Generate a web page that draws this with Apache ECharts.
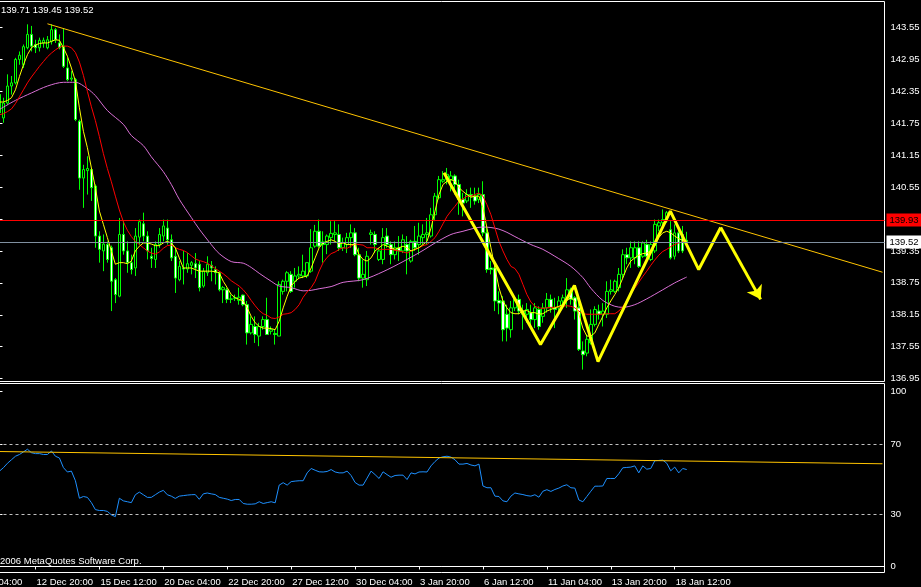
<!DOCTYPE html>
<html><head><meta charset="utf-8">
<script src="https://cdn.jsdelivr.net/npm/echarts@6/dist/echarts.min.js"></script>
<style>html,body{margin:0;padding:0;background:#000;}#c{width:921px;height:587px;}</style>
</head><body><div id="c"></div>
<script>
// ---- DATA (H4 bars, index = bar number) ----
const opens=[
142.29,141.85,142.13,142.45,142.51,142.95,142.85,143.17,143.42,143.23,
143.17,143.26,143.17,143.29,143.51,143.26,143.20,142.79,142.58,142.57,
141.79,140.72,140.86,140.88,140.57,139.63,139.35,139.47,139.41,138.81,
138.50,139.66,139.35,139.13,139.03,139.61,139.86,139.63,139.25,139.19,
139.47,139.63,139.78,139.56,139.25,138.81,139.03,139.01,139.08,139.11,
139.10,138.69,138.94,139.08,139.00,138.94,138.62,138.62,138.44,138.46,
138.42,138.52,138.34,137.81,137.93,137.75,137.93,138.06,137.84,137.80,
137.75,138.59,138.78,138.91,138.78,138.88,138.88,138.88,138.97,139.44,
139.72,139.52,139.47,139.60,139.66,139.66,139.41,139.47,139.60,139.69,
139.28,138.84,138.81,139.66,139.66,139.19,139.19,139.63,139.47,139.28,
139.41,139.35,139.47,139.16,139.53,139.47,139.60,139.66,139.63,140.03,
140.35,140.66,140.69,140.69,140.76,140.60,140.32,140.29,140.41,140.38,
140.32,140.41,139.69,139.03,139.03,138.42,138.41,138.16,137.87,138.28,
138.44,138.22,138.16,138.19,138.06,138.25,138.12,138.28,138.44,138.28,
138.28,138.41,138.47,138.62,138.47,138.28,137.47,137.43,137.62,137.97,
138.22,138.16,138.16,138.59,138.59,138.66,138.91,139.28,139.22,139.22,
139.41,139.25,139.47,139.19,139.35,139.82,139.88,139.91,139.75,139.25,
139.69,139.66,139.55];
const highs=[
142.35,142.23,142.67,142.64,142.98,143.10,143.23,143.61,143.58,143.32,
143.36,143.36,143.39,143.61,143.54,143.42,143.54,142.98,142.73,142.60,
141.82,140.97,141.13,140.91,140.60,139.72,139.66,139.53,139.45,138.84,
139.97,139.91,139.53,139.28,139.78,139.94,140.07,139.72,139.41,139.53,
139.78,139.94,139.94,139.66,139.41,139.16,139.35,139.31,139.16,139.31,
139.16,139.03,139.25,139.16,139.06,138.97,138.69,138.66,138.53,138.53,
138.66,138.53,138.41,138.12,138.12,138.00,138.12,138.47,137.93,137.87,
138.78,138.81,138.97,138.97,139.03,139.06,139.28,139.13,139.76,139.84,
139.94,139.72,139.66,139.91,139.91,139.85,139.60,139.69,139.85,139.78,
139.41,139.19,139.35,139.75,139.72,139.41,139.78,139.78,139.53,139.53,
139.63,139.66,139.63,139.56,139.82,139.88,139.85,139.97,140.16,140.44,
140.76,140.85,140.91,140.85,140.79,140.69,140.44,140.51,140.54,140.54,
140.54,140.66,139.78,139.16,139.10,138.59,138.50,138.34,138.41,138.50,
138.53,138.34,138.37,138.34,138.37,138.31,138.37,138.56,138.53,138.47,
138.50,138.53,138.84,138.66,138.50,138.41,137.65,137.78,138.25,138.31,
138.34,138.37,138.78,138.81,138.81,139.03,139.38,139.41,139.53,139.53,
139.53,139.53,139.56,139.53,139.94,139.94,140.13,140.10,139.91,139.85,
139.78,139.82,139.71];
const lows=[
141.79,141.76,142.10,142.29,142.48,142.85,142.79,143.14,143.10,143.07,
143.10,143.17,143.14,143.23,143.26,143.14,142.79,142.54,142.54,141.79,
140.50,140.16,140.41,140.29,139.41,139.13,138.97,139.13,138.22,138.37,
138.48,139.28,138.94,138.91,138.88,139.47,139.53,139.19,139.03,139.03,
139.41,139.53,139.47,139.16,138.56,138.78,138.72,138.94,138.91,138.84,
138.59,138.66,138.88,138.78,138.72,138.59,138.37,138.37,138.37,138.41,
138.34,138.31,137.59,137.78,137.62,137.56,137.87,137.78,137.78,137.59,
137.75,138.53,138.59,138.56,138.66,138.84,138.84,138.84,138.94,139.41,
139.41,139.13,139.29,139.47,139.53,139.35,139.35,139.31,139.41,139.25,
138.78,138.66,138.69,139.47,139.31,139.16,139.10,139.41,139.10,139.19,
139.16,139.31,138.91,139.13,139.35,139.28,139.47,139.47,139.60,139.91,
140.32,140.63,140.60,140.47,140.41,140.03,140.00,140.25,140.16,140.22,
140.25,139.63,138.94,138.91,138.22,138.16,137.65,137.65,137.72,138.22,
138.16,137.87,138.00,137.93,137.90,137.87,138.00,138.19,138.19,137.90,
138.16,138.28,138.28,138.34,138.06,137.47,137.12,137.37,137.59,137.93,
138.06,137.93,138.09,138.53,138.56,138.59,138.84,139.10,139.03,139.10,
139.03,139.22,139.22,139.16,139.31,139.72,139.75,139.88,139.19,139.19,
139.31,139.31,139.45];
const closes=[
141.95,142.13,142.45,142.51,142.95,143.03,143.19,143.42,143.20,143.17,
143.31,143.31,143.32,143.51,143.32,143.17,142.82,142.57,142.60,141.82,
140.72,140.88,140.90,140.54,139.63,139.38,139.48,139.19,138.78,138.53,
139.66,139.35,139.13,139.00,139.63,139.90,139.63,139.35,139.21,139.47,
139.66,139.82,139.56,139.22,138.84,139.06,139.01,139.11,139.13,139.03,
138.66,138.97,139.10,139.03,138.94,138.62,138.66,138.44,138.45,138.47,
138.48,138.34,137.81,137.97,137.78,137.93,138.06,137.78,137.87,137.78,
138.72,138.78,138.94,138.59,138.88,138.91,138.97,139.13,139.41,139.72,
139.44,139.47,139.63,139.68,139.69,139.41,139.51,139.60,139.69,139.28,
138.84,138.91,139.25,139.69,139.47,139.35,139.60,139.47,139.28,139.41,
139.35,139.56,139.35,139.53,139.41,139.63,139.66,139.69,140.03,140.38,
140.69,140.69,140.79,140.76,140.60,140.32,140.25,140.41,140.38,140.29,
140.41,139.69,139.00,139.00,138.41,138.37,137.87,137.90,138.28,138.44,
138.22,138.16,138.25,138.06,138.28,137.93,138.28,138.44,138.28,138.25,
138.41,138.47,138.62,138.44,138.22,137.50,137.40,137.69,137.97,138.25,
138.16,138.22,138.59,138.62,138.78,138.91,139.28,139.22,139.41,139.41,
139.06,139.50,139.25,139.47,139.85,139.88,139.94,140.07,139.22,139.69,
139.35,139.35,139.52];
// moving averages
const maFast=[
142.15,142.15,142.18,142.23,142.38,142.63,142.85,143.04,143.17,143.22,
143.25,143.26,143.26,143.29,143.32,143.31,143.17,143.01,142.79,142.54,
142.04,141.60,141.29,140.91,140.54,140.10,139.85,139.60,139.35,139.10,
139.13,139.13,139.11,139.16,139.35,139.44,139.50,139.50,139.48,139.45,
139.45,139.50,139.53,139.50,139.41,139.22,139.03,139.03,139.03,139.00,
138.97,138.97,138.97,138.97,138.96,138.94,138.78,138.66,138.53,138.47,
138.44,138.41,138.28,138.12,138.00,137.93,137.90,137.90,137.89,137.87,
138.03,138.28,138.50,138.69,138.78,138.84,138.86,138.88,139.03,139.22,
139.41,139.50,139.53,139.56,139.53,139.48,139.50,139.47,139.47,139.47,
139.28,139.19,139.16,139.22,139.35,139.41,139.47,139.44,139.41,139.38,
139.41,139.44,139.41,139.35,139.38,139.41,139.47,139.53,139.78,140.10,
140.41,140.60,140.66,140.69,140.66,140.54,140.47,140.41,140.36,140.38,
140.38,140.16,139.78,139.41,139.03,138.66,138.41,138.28,138.19,138.17,
138.17,138.22,138.23,138.19,138.19,138.16,138.17,138.22,138.25,138.28,
138.31,138.34,138.42,138.47,138.41,138.16,137.90,137.75,137.75,137.81,
137.97,138.12,138.28,138.41,138.53,138.66,138.84,139.03,139.16,139.22,
139.27,139.30,139.31,139.35,139.44,139.60,139.69,139.72,139.69,139.63,
139.58,139.55,139.53];
const maMid=[
141.91,141.93,141.97,142.02,142.12,142.25,142.38,142.51,142.62,142.72,
142.82,142.91,143.00,143.07,143.13,143.18,143.20,143.20,143.17,143.08,
142.90,142.65,142.35,142.06,141.80,141.50,141.18,140.90,140.65,140.38,
140.12,139.90,139.74,139.62,139.53,139.47,139.41,139.35,139.31,139.29,
139.33,139.40,139.45,139.46,139.41,139.38,139.36,139.32,139.26,139.20,
139.17,139.15,139.12,139.07,139.02,138.97,138.92,138.86,138.79,138.74,
138.69,138.62,138.53,138.42,138.32,138.23,138.17,138.14,138.09,138.08,
138.11,138.16,138.17,138.19,138.25,138.34,138.48,138.58,138.66,138.78,
138.97,139.13,139.23,139.30,139.33,139.38,139.41,139.40,139.44,139.48,
139.47,139.46,139.41,139.41,139.41,139.38,139.38,139.38,139.38,139.36,
139.35,139.33,139.31,139.35,139.38,139.41,139.45,139.47,139.53,139.60,
139.72,139.86,140.00,140.10,140.19,140.29,140.33,140.38,140.38,140.41,
140.44,140.38,140.22,140.03,139.78,139.53,139.35,139.19,139.06,139.02,
138.91,138.72,138.53,138.39,138.31,138.28,138.27,138.28,138.29,138.29,
138.30,138.31,138.32,138.31,138.28,138.22,138.17,138.16,138.16,138.16,
138.16,138.16,138.17,138.17,138.17,138.22,138.30,138.42,138.55,138.65,
138.76,138.87,138.97,139.08,139.18,139.27,139.34,139.38,139.43,139.47,
139.50,139.52,139.53];
const maSlowBars=[0,4,8,12,16,19,22,24,27,31,33,36,38,41,43,45,48,50,53,55,58,61,63,65,68,70,73,76,78,80,83,86,91,96,101,106,109,113,116,119,121,123,125,127,129,133,136,139,143,146,148,151,154,156,159,162,166,169,172];
const maSlowVals=[142.01,142.18,142.32,142.45,142.52,142.52,142.40,142.27,141.99,141.73,141.52,141.33,141.12,140.84,140.60,140.32,139.98,139.76,139.47,139.30,139.15,139.12,139.04,138.93,138.78,138.69,138.66,138.60,138.61,138.64,138.68,138.76,138.81,138.96,139.15,139.36,139.50,139.66,139.72,139.78,139.80,139.79,139.76,139.70,139.62,139.47,139.38,139.25,139.06,138.85,138.65,138.42,138.31,138.29,138.34,138.45,138.62,138.75,138.86];
const rsi=[
54.5,56.5,59,61,63,64,65.5,67,65,64.5,
64.5,64,64,66,63,62,56.5,54,54.5,49,
39,40,39.5,36.5,32.5,32,32,31.5,29.5,28.5,
39,37.5,37,36.5,41,42.5,41,39.5,39.5,41,
42.5,43.5,41,40.2,38.9,40.2,40.5,40.8,41,41.1,
38.4,41.5,42,41.5,41.1,39.5,39,38.5,37.7,38.3,
38.3,36,35.6,35.6,35.8,37,36,36.5,37,36.4,
46.5,47.9,46.5,48.5,48.8,49,49,53.5,56,55,
54.1,54,54.3,55.4,54,53.5,53.5,54.5,52,48,
46.5,46.5,50.5,54.5,52.5,50.3,54.1,52.5,51,52,
52.2,52.2,49.7,53.5,52.9,54,54.1,54,57.5,60,
62,62.7,63,62.5,61,58.5,58.5,58.9,58,57.5,
58.5,46,45,45,40.2,40,37.5,37,40.2,42,
41.5,41.1,40.5,40.2,41,39.6,43,43.9,42.9,44,
44.8,46,46.7,45,44.8,38,37,40,43,45.9,
45.9,46,50.3,50.3,50.3,53,56.4,56.6,56.8,57.5,
53.5,57.5,55.6,56,60.4,60.6,60.8,59,54.7,56.8,
53.5,56,55.4];
// drawn objects
const trendBars=[12,221];
const trendPrices=[143.62,138.95];
const zigBars=[111.25,135.4,143.9,149.8,167.9,175,180.5];
const zigPrices=[140.82,137.59,138.70,137.27,140.10,139.00,139.79];
const arrowEnd=[190.5,138.44];
const rsiTrendBars=[0,221];
const rsiTrendVals=[65.7,58.7];
const resistance=139.93;
const bidPrice=139.52;
const rsiLevelsDashed=[70,30];
// tick labels
const priceLabels=[143.55,142.95,142.35,141.75,141.15,140.55,139.35,138.75,138.15,137.55,136.95];
const priceTicks=[143.55,142.95,142.35,141.75,141.15,140.55,139.95,139.35,138.75,138.15,137.55,136.95];
const rsiLabels=[0,30,70,100];
const timeTickBars=[9,25,41,57,73,89,105,121,137,153,169];
const timeLabels=['12 Dec 20:00','15 Dec 12:00','20 Dec 04:00','22 Dec 20:00','27 Dec 12:00','30 Dec 04:00','3 Jan 20:00','6 Jan 12:00','11 Jan 04:00','13 Jan 20:00','18 Jan 12:00'];
const cutTimeLabel='04:00';
const headerText='139.71 139.45 139.52';
const copyrightText='2006 MetaQuotes Software Corp.';

// ---- CHART ----
const FONT='Liberation Sans';
const FS=9.5;
const pairs=(xs,ys)=>xs.map((x,i)=>[x,ys[i]]);
const candles=closes.map((c,i)=>[i,opens[i],c,lows[i],highs[i]]);
const chart=echarts.init(document.getElementById('c'),null,{renderer:'canvas'});
const noLine={symbol:'none',silent:true,animation:false};
chart.setOption({
  backgroundColor:'#000',
  animation:false,
  textStyle:{fontFamily:FONT},
  grid:[
    {left:-2.5,width:887,top:1.5,height:380,show:true,borderColor:'#fff',borderWidth:1,backgroundColor:'transparent',containLabel:false,outerBoundsMode:'none'},
    {left:-2.5,width:887,top:383.5,height:189,show:true,borderColor:'#fff',borderWidth:1,backgroundColor:'transparent',containLabel:false,outerBoundsMode:'none'}
  ],
  xAxis:[
    {gridIndex:0,type:'value',min:-0.5,max:221.5,axisLine:{show:false},axisTick:{show:false},axisLabel:{show:false},splitLine:{show:false}},
    {gridIndex:1,type:'value',min:-0.5,max:221.5,
     axisLine:{show:true,lineStyle:{color:'#fff',width:1}},
     axisTick:{show:true,length:3,lineStyle:{color:'#fff'},customValues:timeTickBars},
     axisLabel:{show:true,color:'#fff',fontFamily:FONT,fontSize:FS,align:'left',margin:5,padding:[0,0,0,1],
       customValues:[-0.5].concat(timeTickBars),
       formatter:v=>{ if(v<0) return cutTimeLabel; const k=timeTickBars.indexOf(Math.round(v)); return k>=0?timeLabels[k]:''; }},
     splitLine:{show:false}}
  ],
  yAxis:[
    {gridIndex:0,type:'value',position:'right',min:136.896,max:144.039,
     axisLine:{show:true,lineStyle:{color:'#fff'}},
     axisTick:{show:true,length:3,lineStyle:{color:'#fff'},customValues:priceTicks},
     axisLabel:{show:true,color:'#fff',fontFamily:FONT,fontSize:FS,margin:6,customValues:priceLabels,formatter:v=>v.toFixed(2)},
     splitLine:{show:false}},
    {gridIndex:1,type:'value',position:'right',min:-3.43,max:104.57,
     axisLine:{show:true,lineStyle:{color:'#fff'}},
     axisTick:{show:true,length:3,lineStyle:{color:'#fff'},customValues:rsiLabels},
     axisLabel:{show:true,color:'#fff',fontFamily:FONT,fontSize:FS,margin:6,customValues:rsiLabels,formatter:v=>String(v)},
     splitLine:{show:false}}
  ],
  series:[
    {type:'candlestick',xAxisIndex:0,yAxisIndex:0,data:candles,encode:{x:0,y:[1,2,3,4]},barWidth:3,
     itemStyle:{color:'#000',color0:'#fff',borderColor:'#00ff00',borderColor0:'#00ff00',borderWidth:1},
     silent:true,
     markLine:{silent:true,symbol:'none',animation:false,data:[
       {yAxis:resistance,lineStyle:{color:'#ff0000',width:1,type:'solid'},
        label:{show:true,position:'end',formatter:resistance.toFixed(2),color:'#000',backgroundColor:'#ff0000',padding:[2,4,1,3],fontSize:FS,fontFamily:FONT,distance:2}},
       {yAxis:bidPrice,lineStyle:{color:'#8090a0',width:1,type:'solid'},
        label:{show:true,position:'end',formatter:bidPrice.toFixed(2),color:'#000',backgroundColor:'#fff',padding:[2,4,1,3],fontSize:FS,fontFamily:FONT,distance:2}}
     ]}},
    Object.assign({type:'line',xAxisIndex:0,yAxisIndex:0,data:pairs(maSlowBars,maSlowVals),smooth:0.3,lineStyle:{color:'#da70d6',width:1}},noLine),
    Object.assign({type:'line',xAxisIndex:0,yAxisIndex:0,data:maMid.map((v,i)=>[i,v]),lineStyle:{color:'#ff0000',width:1}},noLine),
    Object.assign({type:'line',xAxisIndex:0,yAxisIndex:0,data:maFast.map((v,i)=>[i,v]),lineStyle:{color:'#ffff00',width:1}},noLine),
    Object.assign({type:'line',xAxisIndex:0,yAxisIndex:0,data:pairs(trendBars,trendPrices),lineStyle:{color:'#ffc400',width:1}},noLine),
    Object.assign({type:'line',xAxisIndex:0,yAxisIndex:0,data:pairs(zigBars,zigPrices),lineStyle:{color:'#ffff00',width:3}},noLine),
    {type:'line',xAxisIndex:0,yAxisIndex:0,data:[],silent:true,animation:false,
      markLine:{silent:true,animation:false,symbol:['none','arrow'],symbolSize:13,
        lineStyle:{color:'#ffff00',width:3,type:'solid'},itemStyle:{color:'#ffff00'},label:{show:false},
        data:[[{coord:[zigBars[zigBars.length-1],zigPrices[zigPrices.length-1]]},{coord:arrowEnd}]]}},
    Object.assign({type:'line',xAxisIndex:1,yAxisIndex:1,data:rsi.map((v,i)=>[i,v]),lineStyle:{color:'#1e90ff',width:1},
      markLine:{silent:true,animation:false,symbol:'none',label:{show:false},
        lineStyle:{color:'#c0c0c0',width:1,type:[3,3]},
        data:rsiLevelsDashed.map(v=>({yAxis:v}))}},noLine),
    Object.assign({type:'line',xAxisIndex:1,yAxisIndex:1,data:pairs(rsiTrendBars,rsiTrendVals),lineStyle:{color:'#ffc400',width:1}},noLine)
  ],
  graphic:[
    {type:'text',left:1,top:5,style:{text:headerText,fill:'#fff',font:FS+'px "'+FONT+'"'}},
    {type:'text',left:0,top:556,style:{text:copyrightText,fill:'#fff',font:FS+'px "'+FONT+'"'}}
  ]
});
</script></body></html>
